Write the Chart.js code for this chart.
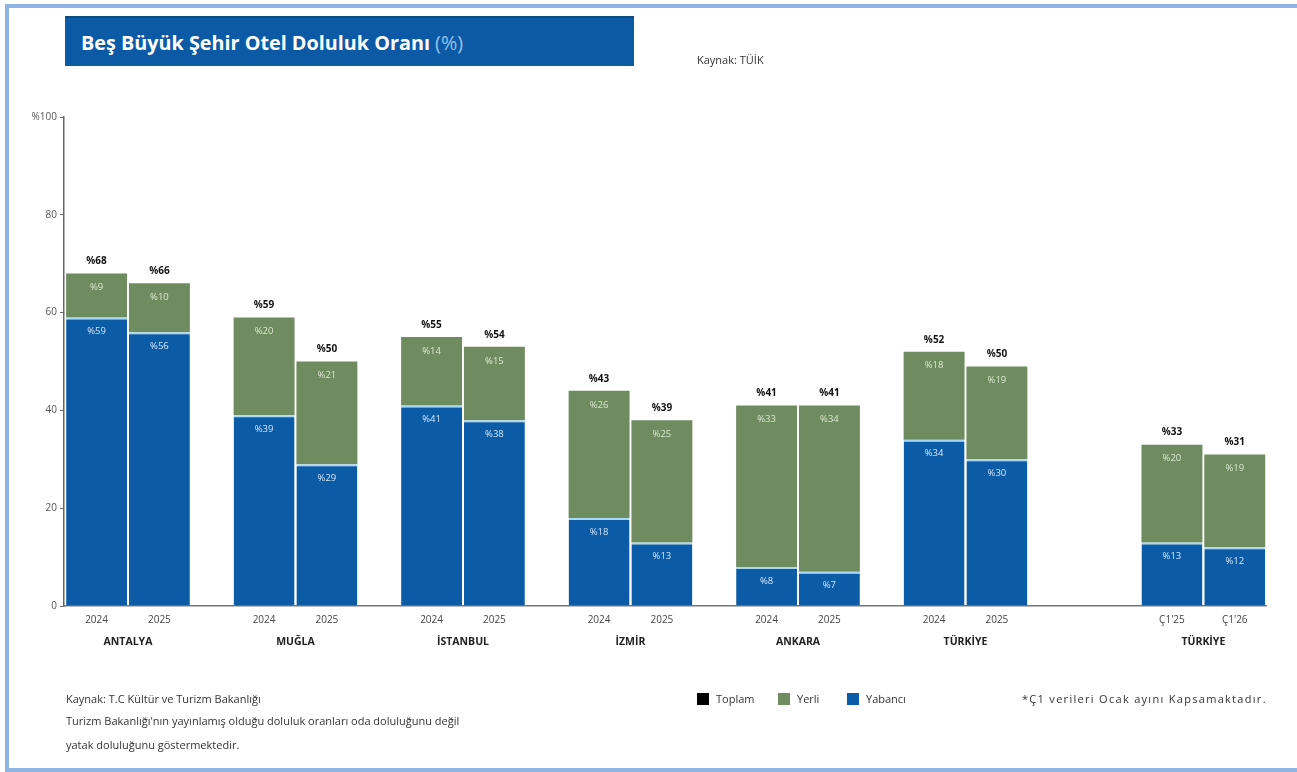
<!DOCTYPE html>
<html lang="tr">
<head>
    <meta charset="UTF-8">
    <title>Beş Büyük Şehir Otel Doluluk Oranı</title>
    <script src="https://cdn.jsdelivr.net/npm/chart.js"></script>
    <style>
        body { margin: 0; background: #fff; font-family: 'Open Sans', sans-serif; }
        #page { position: relative; width: 1297px; height: 772px; overflow: hidden; }
        #frame { position: absolute; left: 5px; top: 4px; width: 1296px; height: 768px; border: 4px solid #8eb4e3; box-sizing: border-box; }
        #chartBox { position: absolute; left: 0; top: 0; width: 1297px; height: 772px; }
        #titleBar { position: absolute; left: 65px; top: 16px; width: 569px; height: 50px; background: #0c5aa6; border-top: 2px solid #0f4a80; box-sizing: border-box; }
        #titleBar span.t { position: absolute; left: 16px; top: 11px; color: #fff; font-weight: 700; font-size: 19.8px; white-space: nowrap; }
        #titleBar span.p { color: #95c2ea; font-weight: 400; }
        .note { position: absolute; font-size: 11px; color: #333; white-space: nowrap; }
        .leg { position: absolute; top: 691px; font-size: 11px; color: #333; white-space: nowrap; }
        .leg i { display: inline-block; width: 12px; height: 12px; vertical-align: -2px; margin-right: 7px; }
    </style>
</head>
<body>
<div id="page">
    <div id="frame"></div>
    <div id="chartBox"><canvas id="occChart"></canvas></div>
    <div id="titleBar"><span class="t">Beş Büyük Şehir Otel Doluluk Oranı <span class="p">(%)</span></span></div>
    <div class="note" style="left:697px; top:52px;">Kaynak: TÜİK</div>

    <div class="leg" style="left:697px;"><i style="background:#000"></i>Toplam</div>
    <div class="leg" style="left:778px;"><i style="background:#6e8c5f"></i>Yerli</div>
    <div class="leg" style="left:847px;"><i style="background:#0b5ba6"></i>Yabancı</div>
    <div class="note" style="left:1022px; top:691px; letter-spacing:1.3px;">*Ç1 verileri Ocak ayını Kapsamaktadır.</div>

    <div class="note" style="left:66px; top:691px;">Kaynak: T.C Kültür ve Turizm Bakanlığı</div>
    <div class="note" style="left:66px; top:713px;">Turizm Bakanlığı'nın yayınlamış olduğu doluluk oranları oda doluluğunu değil</div>
    <div class="note" style="left:66px; top:737px;">yatak doluluğunu göstermektedir.</div>
</div>

<script>
    // Groups and periods
    const cities = ['ANTALYA', 'MUĞLA', 'İSTANBUL', 'İZMİR', 'ANKARA', 'TÜRKİYE', 'TÜRKİYE'];
    const periods = ['2024', '2025', '2024', '2025', '2024', '2025', '2024', '2025',
                     '2024', '2025', '2024', '2025', "Ç1'25", "Ç1'26"];

    // Values (%), two per city: first period, second period
    const yabanci = [59, 56, 39, 29, 41, 38, 18, 13, 8, 7, 34, 30, 13, 12];
    const yerli   = [9, 10, 20, 21, 14, 15, 26, 25, 33, 34, 18, 19, 20, 19];
    const toplam  = [68, 66, 59, 50, 55, 54, 43, 39, 41, 41, 52, 50, 33, 31];

    const yTicks = [0, 20, 40, 60, 80, 100];

    const BLUE = '#0b5ba6';
    const GREEN = '#6e8c5f';

    // group positions on the x scale (last group sits a bit further right)
    const groupX = cities.map((c, i) => i + (i === cities.length - 1 ? 0.42 : 0));
    const half = 0.1875; // offset of each bar centre from group centre
    const barX = [];
    groupX.forEach(g => { barX.push(g - half, g + half); });

    const pick = (arr, k) => groupX.map((g, i) => ({ x: g, y: arr[i * 2 + k] }));

    const xMin = -0.382, xMax = 6.794;

    const labelPlugin = {
        id: 'segLabels',
        afterDatasetsDraw(chart) {
            const ctx = chart.ctx;
            ctx.save();
            ctx.textAlign = 'center';
            ctx.textBaseline = 'middle';
            chart.data.datasets.forEach((ds, di) => {
                const meta = chart.getDatasetMeta(di);
                meta.data.forEach((el, i) => {
                    const idx = i * 2 + ds.k;
                    ctx.font = '9.5px "Open Sans"';
                    ctx.fillStyle = ds.kind === 'yerli' ? '#dbe8d2' : '#d3e6f7';
                    const v = ds.kind === 'yerli' ? yerli[idx] : yabanci[idx];
                    ctx.fillText('%' + v, el.x, el.y + 14);
                    if (ds.kind === 'yerli') {
                        ctx.font = 'bold 10px "Open Sans"';
                        ctx.fillStyle = '#111';
                        ctx.fillText('%' + toplam[idx], el.x, el.y - 12);
                    }
                });
            });
            ctx.restore();
        }
    };

    const mk = (kind, k) => ({
        label: kind,
        kind: kind,
        k: k,
        stack: 's' + k,
        data: pick(kind === 'yerli' ? yerli : yabanci, k),
        backgroundColor: kind === 'yerli' ? GREEN : BLUE,
        borderColor: kind === 'yerli' ? GREEN : '#a9d8f3',
        borderWidth: kind === 'yerli' ? 0 : { top: 2, left: 0, right: 0, bottom: 0 },
        borderSkipped: false,
        categoryPercentage: 0.75,
        barPercentage: 0.97
    });

    new Chart(document.getElementById('occChart'), {
        type: 'bar',
        data: {
            datasets: [mk('yabanci', 0), mk('yerli', 0), mk('yabanci', 1), mk('yerli', 1)]
        },
        options: {
            responsive: true,
            maintainAspectRatio: false,
            animation: false,
            layout: { padding: { left: 14, right: 31, top: 117, bottom: 122 } },
            plugins: { legend: { display: false }, tooltip: { enabled: false } },
            scales: {
                x: {
                    type: 'linear', min: xMin, max: xMax, weight: 1, stacked: true, offset: false,
                    afterBuildTicks: s => { s.ticks = groupX.map(v => ({ value: v })); },
                    afterFit: s => { s.height = 22; },
                    grid: { display: false, drawTicks: false, offset: false }, border: { display: false },
                    ticks: {
                        autoSkip: false, maxRotation: 0, padding: 8,
                        color: '#222', font: { family: 'Open Sans', size: 10.5, weight: 'bold' },
                        callback: (v, i) => cities[i]
                    }
                },
                xYears: {
                    type: 'linear', position: 'bottom', min: xMin, max: xMax, weight: 0, offset: false,
                    afterBuildTicks: s => { s.ticks = barX.map(v => ({ value: v })); },
                    afterFit: s => { s.height = 22; },
                    grid: { display: false, drawTicks: false, offset: false },
                    border: { display: true, color: '#777', width: 1.5 },
                    ticks: {
                        autoSkip: false, maxRotation: 0, padding: 8,
                        color: '#444', font: { family: 'Open Sans', size: 10 },
                        callback: (v, i) => periods[i]
                    }
                },
                y: {
                    stacked: true, min: 0, max: 100,
                    afterBuildTicks: s => { s.ticks = yTicks.map(v => ({ value: v })); },
                    afterFit: s => { s.width = 50; },
                    grid: { drawOnChartArea: false, drawTicks: true, tickLength: 4, color: '#666' },
                    border: { display: true, color: '#666', width: 1.5 },
                    ticks: {
                        padding: 3, color: '#555', font: { family: 'Open Sans', size: 10 },
                        callback: v => v === 100 ? '%100' : v
                    }
                }
            }
        },
        plugins: [labelPlugin]
    });
</script>
</body>
</html>
